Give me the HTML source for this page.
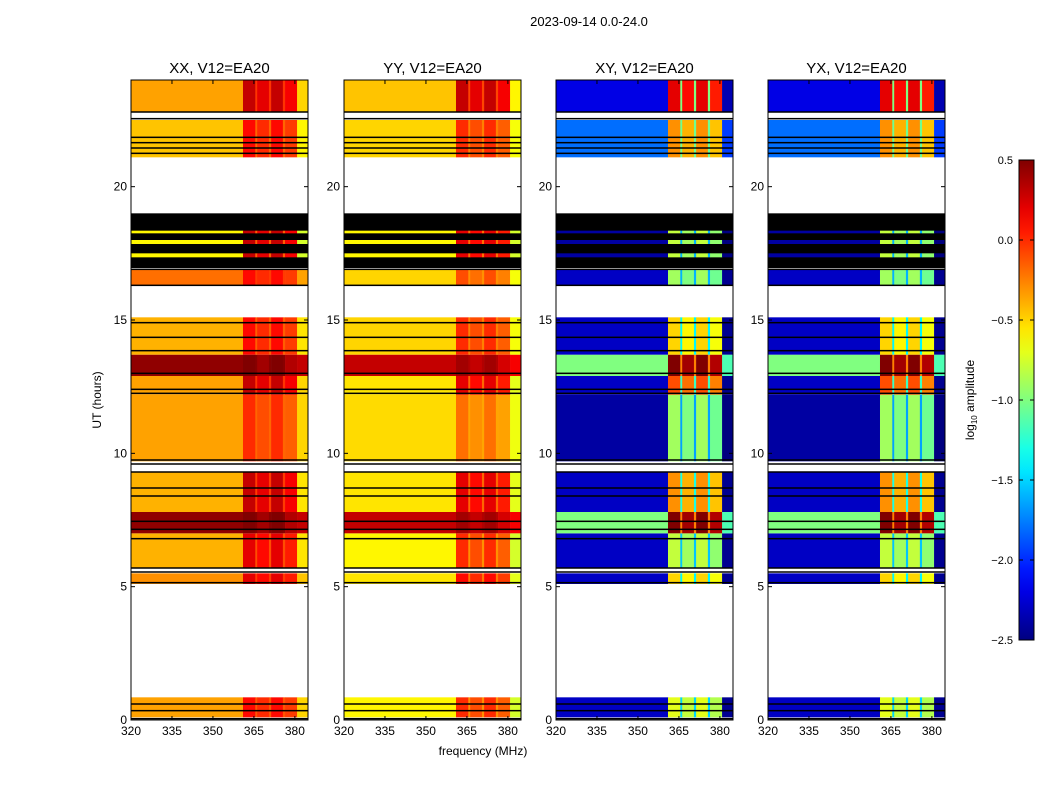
<!DOCTYPE html>
<html><head><meta charset="utf-8"><style>
body{margin:0;background:#fff;font-family:"Liberation Sans",sans-serif;}
svg text{font-family:"Liberation Sans",sans-serif;fill:#000;}
</style></head><body>
<svg id="fig" width="1050" height="800" xmlns="http://www.w3.org/2000/svg">
<rect width="1050" height="800" fill="#fff"/>
<text x="589" y="26" font-size="13" text-anchor="middle">2023-09-14 0.0-24.0</text>
<text x="483" y="755" font-size="12" text-anchor="middle">frequency (MHz)</text>
<text x="101" y="400" font-size="12" text-anchor="middle" transform="rotate(-90 101 400)">UT (hours)</text>
<g id="panels"></g>
<g id="cbar"></g>
</svg>
<script>
// ---- data ----
const panelTitles = ["XX, V12=EA20","YY, V12=EA20","XY, V12=EA20","YX, V12=EA20"];
const xTicks = [320,335,350,365,380];
const yTicks = [0,5,10,15,20];
const cbarTicks = [0.5,0.0,-0.5,-1.0,-1.5,-2.0,-2.5];
// time rows: start hour, end hour
const rowStart = [0.1,5.1,5.7,7.0,7.8,9.7,12.2,12.9,13.7,16.3,16.95,17.35,17.85,18.25,18.6,21.1,22.8];
const rowEnd   = [0.85,5.5,7.0,7.8,9.3,12.2,12.9,13.7,15.1,16.9,19.0,17.5,18.0,18.35,18.6,22.5,24.0];
// continuum level (log10 amp) per panel for each row; null = black (flagged)
const contXX = [-0.35,-0.3,-0.4,0.45,-0.4,-0.35,-0.35,0.45,-0.4,-0.2,null,-0.6,-0.6,-0.6,-0.6,-0.45,-0.35];
const contYY = [-0.6,-0.55,-0.6,0.3,-0.55,-0.52,-0.55,0.3,-0.5,-0.5,null,-0.6,-0.6,-0.6,-0.6,-0.5,-0.45];
const contXY = [-2.3,-2.3,-2.3,-1.0,-2.3,-2.4,-2.3,-1.0,-2.3,-2.3,null,-2.4,-2.4,-2.4,-2.4,-1.8,-2.2];
const contYX = [-2.3,-2.3,-2.3,-1.0,-2.3,-2.4,-2.3,-1.0,-2.3,-2.3,null,-2.4,-2.4,-2.4,-2.4,-1.8,-2.2];
// RFI band level per row
const bandXX = [0.1,0.2,0.2,0.5,0.3,0.0,0.3,0.5,0.1,0.1,null,0.3,0.3,0.3,0.3,0.1,0.3];
const bandYY = [0.0,0.1,0.0,0.4,0.2,-0.2,0.2,0.4,0.0,-0.1,null,0.2,0.2,0.2,0.2,0.0,0.3];
const bandXY = [-0.7,-0.5,-0.8,0.5,-0.3,-0.9,-0.1,0.5,-0.5,-0.9,null,-0.8,-0.8,-0.8,-0.8,-0.3,0.2];
const bandYX = [-0.7,-0.5,-0.8,0.5,-0.3,-0.9,-0.1,0.5,-0.5,-0.9,null,-0.8,-0.8,-0.8,-0.8,-0.3,0.2];
// frequency bands (MHz) and their offsets relative to band level
const bandLo = [361.0,366.2,371.3,376.4];
const bandHi = [365.5,370.5,375.6,380.8];
const bandOff = [0.0,-0.1,0.0,-0.15];
// flagged black lines (hours)
const blackLines = [0.05,0.35,0.6,5.15,5.55,5.7,6.8,7.15,7.45,8.4,8.7,9.3,9.6,9.75,12.25,12.4,13.0,13.85,14.35,14.9,16.3,16.9,21.25,21.45,21.65,21.85,22.55,22.8];
const contSets = [contXX,contYY,contXY,contYX];
const bandSets = [bandXX,bandYY,bandXY,bandYX];

// ---- layout ----
const panelX = [131,344,556,768], PW = 177, PY = 80, PH = 640;
const fMin = 320, fMax = 384.8, tMin = 0, tMax = 24;
const vMin = -2.5, vMax = 0.5;
const NS = "http://www.w3.org/2000/svg";
function jet(v){
  let t = Math.max(0,Math.min(1,(v-vMin)/(vMax-vMin)));
  const c = x=>Math.round(255*Math.max(0,Math.min(1,x)));
  const r = c(Math.min(4*t-1.5,-4*t+4.5)), g = c(Math.min(4*t-0.5,-4*t+3.5)), b = c(Math.min(4*t+0.5,-4*t+2.5));
  return `rgb(${r},${g},${b})`;
}
function mk(tag,attrs,parent){const e=document.createElementNS(NS,tag);for(const k in attrs)e.setAttribute(k,attrs[k]);parent.appendChild(e);return e;}
const root = document.getElementById('panels');
panelTitles.forEach((title,p)=>{
  const x0 = panelX[p];
  const xs = f=>x0+(f-fMin)/(fMax-fMin)*PW;
  const ys = h=>PY+PH-(h-tMin)/(tMax-tMin)*PH;
  const g = mk('g',{},root);
  
  
  const cont = contSets[p], band = bandSets[p];
  rowStart.forEach((s,i)=>{
    const y1 = ys(rowEnd[i]), y2 = ys(s);
    const segs = [];
    if(cont[i]===null){ segs.push([fMin,fMax,'#000']); }
    else{
      segs.push([fMin,bandLo[0],jet(cont[i])]);
      for(let k=0;k<bandLo.length;k++){
        segs.push([bandLo[k],bandHi[k],jet(band[i]+bandOff[k])]);
        const next = k<bandLo.length-1?bandLo[k+1]:bandHi[k];
        if(next>bandHi[k]) segs.push([bandHi[k],next,jet((cont[i]+band[i])/2)]);
      }
      segs.push([bandHi[bandHi.length-1],fMax,jet(cont[i]-0.15)]);
    }
    segs.forEach(sg=>{
      const r = mk('rect',{x:xs(sg[0]),y:y1,width:xs(sg[1])-xs(sg[0])+0.3,height:y2-y1,fill:sg[2]},g);
      
      
    });
  });
  blackLines.forEach(h=>{
    const l = mk('rect',{x:x0,y:ys(h)-0.75,width:PW,height:1.5,fill:'#000'},g);
    
    
  });
  const fr = mk('rect',{x:x0,y:PY,width:PW,height:PH,fill:'none',stroke:'#000','stroke-width':1},g);
  
  
  const tt = mk('text',{x:x0+PW/2,y:PY-7,'font-size':15,'text-anchor':'middle'},g);
  tt.textContent = title;
  
  
  xTicks.forEach(f=>{
    const x = xs(f);
    mk('line',{x1:x,x2:x,y1:PY+PH,y2:PY+PH-4,stroke:'#000'},g);
    mk('line',{x1:x,x2:x,y1:PY,y2:PY+4,stroke:'#000'},g);
    const t = mk('text',{x:x,y:PY+PH+15,'font-size':12,'text-anchor':'middle'},g);
    t.textContent = f;
    
    
  });
  yTicks.forEach(h=>{
    const y = ys(h);
    mk('line',{x1:x0,x2:x0+4,y1:y,y2:y,stroke:'#000'},g);
    mk('line',{x1:x0+PW,x2:x0+PW-4,y1:y,y2:y,stroke:'#000'},g);
    const t = mk('text',{x:x0-4,y:y+4,'font-size':12,'text-anchor':'end'},g);
    t.textContent = h;
    
    
  });
});
// colorbar
const cb = document.getElementById('cbar');
const CX = 1019, CW = 15, CY = 160, CH = 480;
const defs = mk('defs',{},cb);
const grad = mk('linearGradient',{id:'jetg',x1:0,y1:1,x2:0,y2:0},defs);
for(let i=0;i<=20;i++){const v=vMin+(vMax-vMin)*i/20;mk('stop',{offset:i/20,'stop-color':jet(v)},grad);}
mk('rect',{x:CX,y:CY,width:CW,height:CH,fill:'url(#jetg)',stroke:'#000'},cb);
cbarTicks.forEach(v=>{
  const y = CY+CH-(v-vMin)/(vMax-vMin)*CH;
  mk('line',{x1:CX,x2:CX+4,y1:y,y2:y,stroke:'#000'},cb);
  mk('line',{x1:CX+CW,x2:CX+CW-4,y1:y,y2:y,stroke:'#000'},cb);
  const t = mk('text',{x:CX-6,y:y+4,'font-size':11,'text-anchor':'end'},cb);
  t.textContent = v.toFixed(1).replace('-','\u2212');
  
  
});
const cl = mk('text',{x:974,y:400,'font-size':12,'text-anchor':'middle',transform:'rotate(-90 974 400)'},cb);
cl.innerHTML = 'log<tspan font-size="8" dy="3">10</tspan><tspan dy="-3"> amplitude</tspan>';


</script>
</body></html>
